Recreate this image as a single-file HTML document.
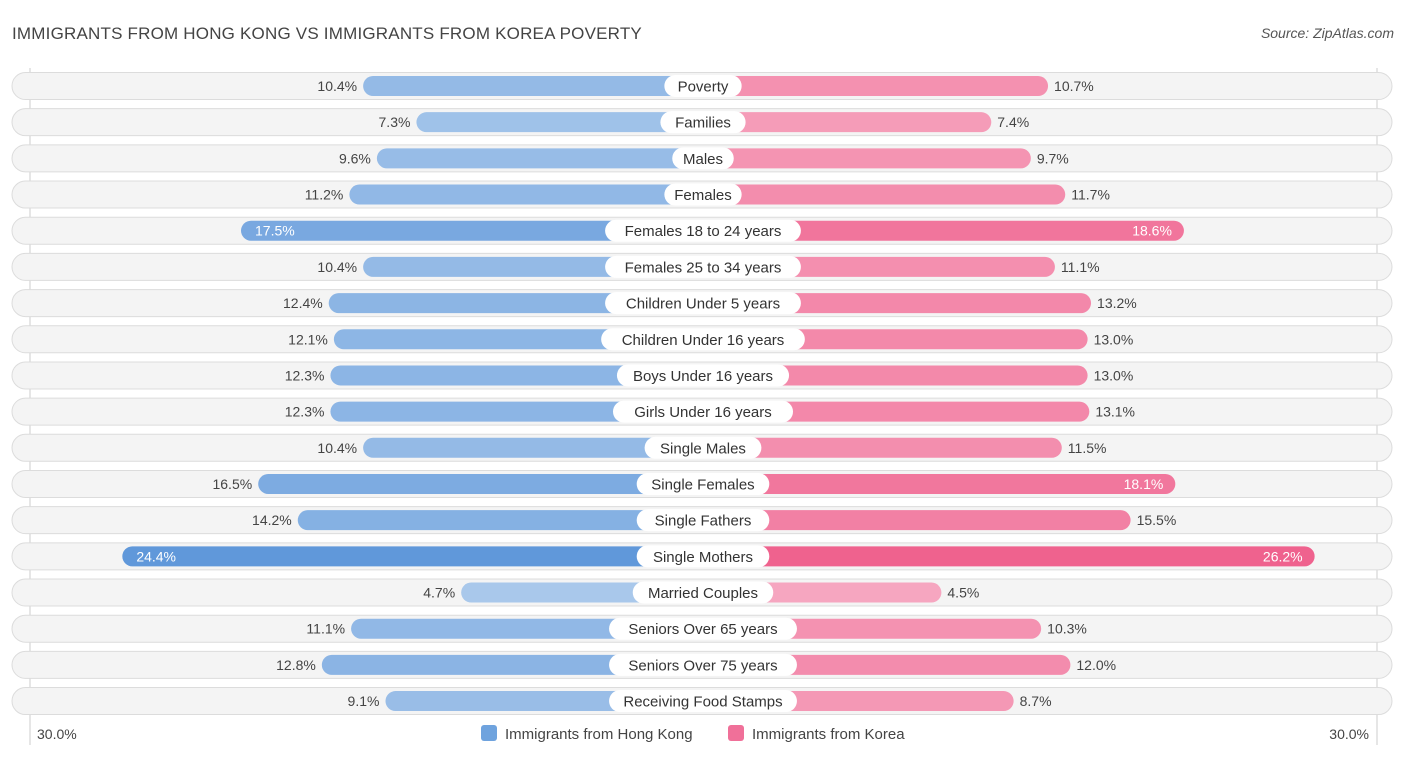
<!DOCTYPE html>
<html><head><meta charset="utf-8"><style>
body{margin:0;width:1406px;height:758px;background:#fff;font-family:"Liberation Sans",sans-serif;overflow:hidden;position:relative}
.t{position:absolute;font-size:13.5px;color:#444}
</style></head><body>
<div class="t" style="left:12px;top:24px;font-size:17px;color:#444;letter-spacing:0.2px">IMMIGRANTS FROM HONG KONG VS IMMIGRANTS FROM KOREA POVERTY</div>
<div class="t" style="right:12px;top:25px;font-style:italic;font-size:14px;color:#555">Source: ZipAtlas.com</div>
<svg id="c" width="1406" height="758" style="position:absolute;left:0;top:0"></svg>
<script>
const categories=["Poverty","Families","Males","Females","Females 18 to 24 years","Females 25 to 34 years","Children Under 5 years","Children Under 16 years","Boys Under 16 years","Girls Under 16 years","Single Males","Single Females","Single Fathers","Single Mothers","Married Couples","Seniors Over 65 years","Seniors Over 75 years","Receiving Food Stamps"];
const hongKong=[10.4,7.3,9.6,11.2,17.5,10.4,12.4,12.1,12.3,12.3,10.4,16.5,14.2,24.4,4.7,11.1,12.8,9.1];
const korea=[10.7,7.4,9.7,11.7,18.6,11.1,13.2,13.0,13.0,13.1,11.5,18.1,15.5,26.2,4.5,10.3,12.0,8.7];
const axisLabels=["30.0%","30.0%"];
const svg=document.getElementById('c');const NS="http://www.w3.org/2000/svg";
const cx=703,y0=86,dy=36.18;
function xs(v){return 161+17.2*v;}
function mk(t,a,name,inter){const e=document.createElementNS(NS,t);for(const k in a)e.setAttribute(k,a[k]);


svg.appendChild(e);return e;}
function mix(a,b,t){return 'rgb('+a.map((x,i)=>Math.round(x+(b[i]-x)*t)).join(',')+')';}
mk('line',{x1:30,y1:68,x2:30,y2:745,stroke:'#ccc','stroke-width':1},'grid-left','false');
mk('line',{x1:1377,y1:68,x2:1377,y2:745,stroke:'#ccc','stroke-width':1},'grid-right','false');
categories.forEach((c,i)=>{
 const y=y0+i*dy;
 mk('rect',{x:12,y:y-13.5,width:1380,height:27,rx:13.5,fill:'#f4f4f4',stroke:'#dcdcdc','stroke-width':1},'row-background','false');
 const hv=hongKong[i],kv=korea[i];
 const th=Math.min(1,Math.max(0,(hv-4)/20)),tk=Math.min(1,Math.max(0,(kv-4)/20));
 const lw=xs(hv),rw=xs(kv);
 mk('rect',{x:cx-lw,y:y-10,width:lw,height:20,rx:10,fill:mix([172,202,236],[96,152,218],th)},'bar-hong-kong','true');
 mk('rect',{x:cx,y:y-10,width:rw,height:20,rx:10,fill:mix([246,168,193],[239,98,142],tk)},'bar-korea','true');
 const lin=hv>17,rin=kv>17;
 let t=mk('text',{x:lin?cx-lw+14:cx-lw-6,y:y+5,'font-size':14,fill:lin?'#fff':'#444','text-anchor':lin?'start':'end'},'value-hong-kong','false');t.textContent=hv.toFixed(1)+'%';
 t=mk('text',{x:rin?cx+rw-12:cx+rw+6,y:y+5,'font-size':14,fill:rin?'#fff':'#444','text-anchor':rin?'end':'start'},'value-korea','false');t.textContent=kv.toFixed(1)+'%';
 const w=c.length*7.9+22;
 mk('rect',{x:cx-w/2,y:y-11,width:w,height:22,rx:11,fill:'#fff'},'category-label-bg','false');
 t=mk('text',{x:cx,y:y+5.5,'font-size':15,fill:'#333','text-anchor':'middle'},'category-label','false');t.textContent=c;
});
let t=mk('text',{x:37,y:739,'font-size':14,fill:'#444'},'axis-label-left','false');t.textContent=axisLabels[0];
t=mk('text',{x:1369,y:739,'font-size':14,fill:'#444','text-anchor':'end'},'axis-label-right','false');t.textContent=axisLabels[1];
mk('rect',{x:481,y:725,width:16,height:16,rx:3,fill:'#6fa3de'},'legend-swatch-hong-kong','false');
t=mk('text',{x:505,y:739,'font-size':15,fill:'#444'},'legend-label-hong-kong','false');t.textContent='Immigrants from Hong Kong';
mk('rect',{x:728,y:725,width:16,height:16,rx:3,fill:'#f07099'},'legend-swatch-korea','false');
t=mk('text',{x:752,y:739,'font-size':15,fill:'#444'},'legend-label-korea','false');t.textContent='Immigrants from Korea';
</script>
</body></html>
